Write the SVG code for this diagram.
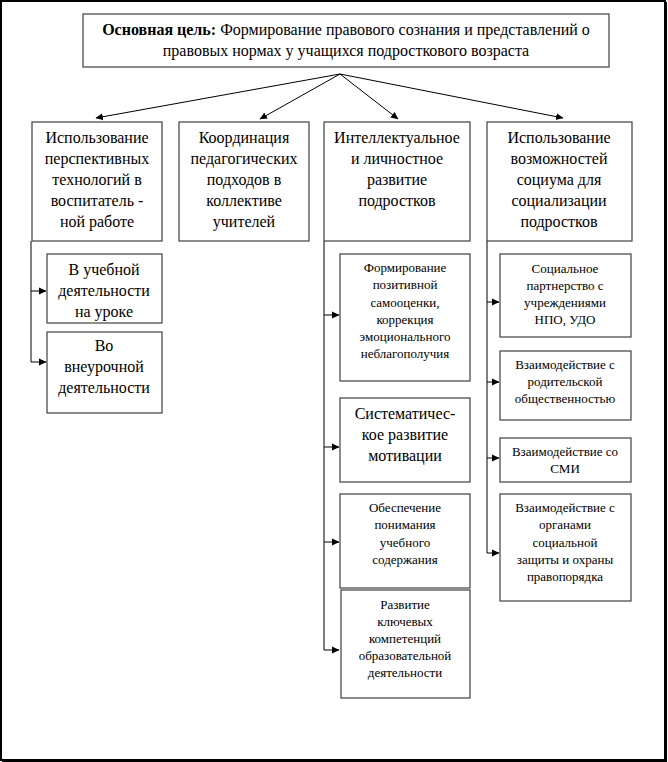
<svg xmlns="http://www.w3.org/2000/svg" width="668" height="762" viewBox="0 0 668 762">
<style>
.box{fill:#fff;stroke:#404040;stroke-width:1.2}
.t{font-family:'Liberation Serif','Times New Roman','DejaVu Serif',serif;font-size:16px;fill:#000;text-anchor:middle}
.s{font-family:'Liberation Serif','Times New Roman','DejaVu Serif',serif;font-size:13px;fill:#000;text-anchor:middle}
.c{fill:none;stroke:#000;stroke-width:1}
</style>
<defs>
<marker id="ah" markerWidth="8" markerHeight="8" refX="7" refY="4" orient="auto" markerUnits="userSpaceOnUse">
<path d="M0,0.5 L7.5,4 L0,7.5 Z" fill="#000"/>
</marker>
</defs>
<rect x="0" y="0" width="668" height="762" fill="#fff"/>
<path d="M1,1 H665 V760 H1 Z" fill="none" stroke="#000" stroke-width="2"/>
<path d="M666,2 V761 H2" fill="none" stroke="#000" stroke-width="2"/>

<g id="connectors">
<line class="c" x1="340" y1="74" x2="96" y2="118" marker-end="url(#ah)"/>
<line class="c" x1="340" y1="74" x2="260" y2="119" marker-end="url(#ah)"/>
<line class="c" x1="340" y1="74" x2="398" y2="119" marker-end="url(#ah)"/>
<line class="c" x1="340" y1="74" x2="563" y2="118" marker-end="url(#ah)"/>
<path class="c" d="M31,241 V362"/>
<line class="c" x1="31" y1="291" x2="46" y2="291" marker-end="url(#ah)"/>
<line class="c" x1="31" y1="362" x2="46" y2="362" marker-end="url(#ah)"/>
<path class="c" d="M324,241 V650"/>
<line class="c" x1="324" y1="315" x2="339" y2="315" marker-end="url(#ah)"/>
<line class="c" x1="324" y1="447" x2="339" y2="447" marker-end="url(#ah)"/>
<line class="c" x1="324" y1="542" x2="339" y2="542" marker-end="url(#ah)"/>
<line class="c" x1="324" y1="650" x2="339" y2="650" marker-end="url(#ah)"/>
<path class="c" d="M487,241 V553"/>
<line class="c" x1="487" y1="302" x2="499" y2="302" marker-end="url(#ah)"/>
<line class="c" x1="487" y1="382" x2="499" y2="382" marker-end="url(#ah)"/>
<line class="c" x1="487" y1="458" x2="499" y2="458" marker-end="url(#ah)"/>
<line class="c" x1="487" y1="553" x2="499" y2="553" marker-end="url(#ah)"/>
</g>

<g id="goal">
<rect class="box" x="83" y="14" width="526" height="53"/>
<text class="t" x="346" y="35"><tspan font-weight="bold">Основная цель:</tspan> Формирование правового сознания и представлений о</text>
<text class="t" x="346" y="56">правовых нормах у учащихся подросткового возраста</text>
</g>

<g id="col1">
<rect class="box" x="32" y="122" width="130" height="119"/>
<text class="t" x="97" y="143">Использование</text>
<text class="t" x="97" y="164">перспективных</text>
<text class="t" x="97" y="185">технологий в</text>
<text class="t" x="97" y="206">воспитатель -</text>
<text class="t" x="97" y="227">ной работе</text>
</g>
<g id="col2">
<rect class="box" x="179" y="122" width="130" height="119"/>
<text class="t" x="244" y="143">Координация</text>
<text class="t" x="244" y="164">педагогических</text>
<text class="t" x="244" y="185">подходов в</text>
<text class="t" x="244" y="206">коллективе</text>
<text class="t" x="244" y="227">учителей</text>
</g>
<g id="col3">
<rect class="box" x="324" y="122" width="146" height="119"/>
<text class="t" x="397" y="143">Интеллектуальное</text>
<text class="t" x="397" y="164">и личностное</text>
<text class="t" x="397" y="185">развитие</text>
<text class="t" x="397" y="206">подростков</text>
</g>
<g id="col4">
<rect class="box" x="487" y="122" width="145" height="119"/>
<text class="t" x="559" y="143">Использование</text>
<text class="t" x="559" y="164">возможностей</text>
<text class="t" x="559" y="185">социума для</text>
<text class="t" x="559" y="206">социализации</text>
<text class="t" x="559" y="227">подростков</text>
</g>

<g id="l1">
<rect class="box" x="47" y="254" width="115" height="69"/>
<text class="t" x="104" y="275">В учебной</text>
<text class="t" x="104" y="296">деятельности</text>
<text class="t" x="104" y="317">на уроке</text>
</g>
<g id="l2">
<rect class="box" x="47" y="332" width="115" height="81"/>
<text class="t" x="104" y="351">Во</text>
<text class="t" x="104" y="372">внеурочной</text>
<text class="t" x="104" y="393">деятельности</text>
</g>

<g id="m1">
<rect class="box" x="340" y="254" width="130" height="127"/>
<text class="s" x="405" y="272">Формирование</text>
<text class="s" x="405" y="289">позитивной</text>
<text class="s" x="405" y="307">самооценки,</text>
<text class="s" x="405" y="324">коррекция</text>
<text class="s" x="405" y="341">эмоционального</text>
<text class="s" x="405" y="358">неблагополучия</text>
</g>
<g id="m2">
<rect class="box" x="340" y="398" width="130" height="84"/>
<text class="t" x="405" y="419">Систематичес-</text>
<text class="t" x="405" y="440">кое развитие</text>
<text class="t" x="405" y="461">мотивации</text>
</g>
<g id="m3">
<rect class="box" x="340" y="494" width="130" height="94"/>
<text class="s" x="405" y="512">Обеспечение</text>
<text class="s" x="405" y="529">понимания</text>
<text class="s" x="405" y="547">учебного</text>
<text class="s" x="405" y="564">содержания</text>
</g>
<g id="m4">
<rect class="box" x="341" y="590" width="129" height="108"/>
<text class="s" x="405" y="609">Развитие</text>
<text class="s" x="405" y="626">ключевых</text>
<text class="s" x="405" y="643">компетенций</text>
<text class="s" x="405" y="660">образовательной</text>
<text class="s" x="405" y="677">деятельности</text>
</g>

<g id="r1">
<rect class="box" x="500" y="254" width="131" height="83"/>
<text class="s" x="565" y="273">Социальное</text>
<text class="s" x="565" y="290">партнерство с</text>
<text class="s" x="565" y="307">учреждениями</text>
<text class="s" x="565" y="324">НПО, УДО</text>
</g>
<g id="r2">
<rect class="box" x="500" y="351" width="131" height="69"/>
<text class="s" x="565" y="369">Взаимодействие с</text>
<text class="s" x="565" y="386">родительской</text>
<text class="s" x="565" y="403">общественностью</text>
</g>
<g id="r3">
<rect class="box" x="500" y="438" width="131" height="44"/>
<text class="s" x="565" y="456">Взаимодействие со</text>
<text class="s" x="565" y="473">СМИ</text>
</g>
<g id="r4">
<rect class="box" x="500" y="494" width="131" height="107"/>
<text class="s" x="565" y="512">Взаимодействие с</text>
<text class="s" x="565" y="529">органами</text>
<text class="s" x="565" y="547">социальной</text>
<text class="s" x="565" y="564">защиты и охраны</text>
<text class="s" x="565" y="581">правопорядка</text>
</g>
</svg>
